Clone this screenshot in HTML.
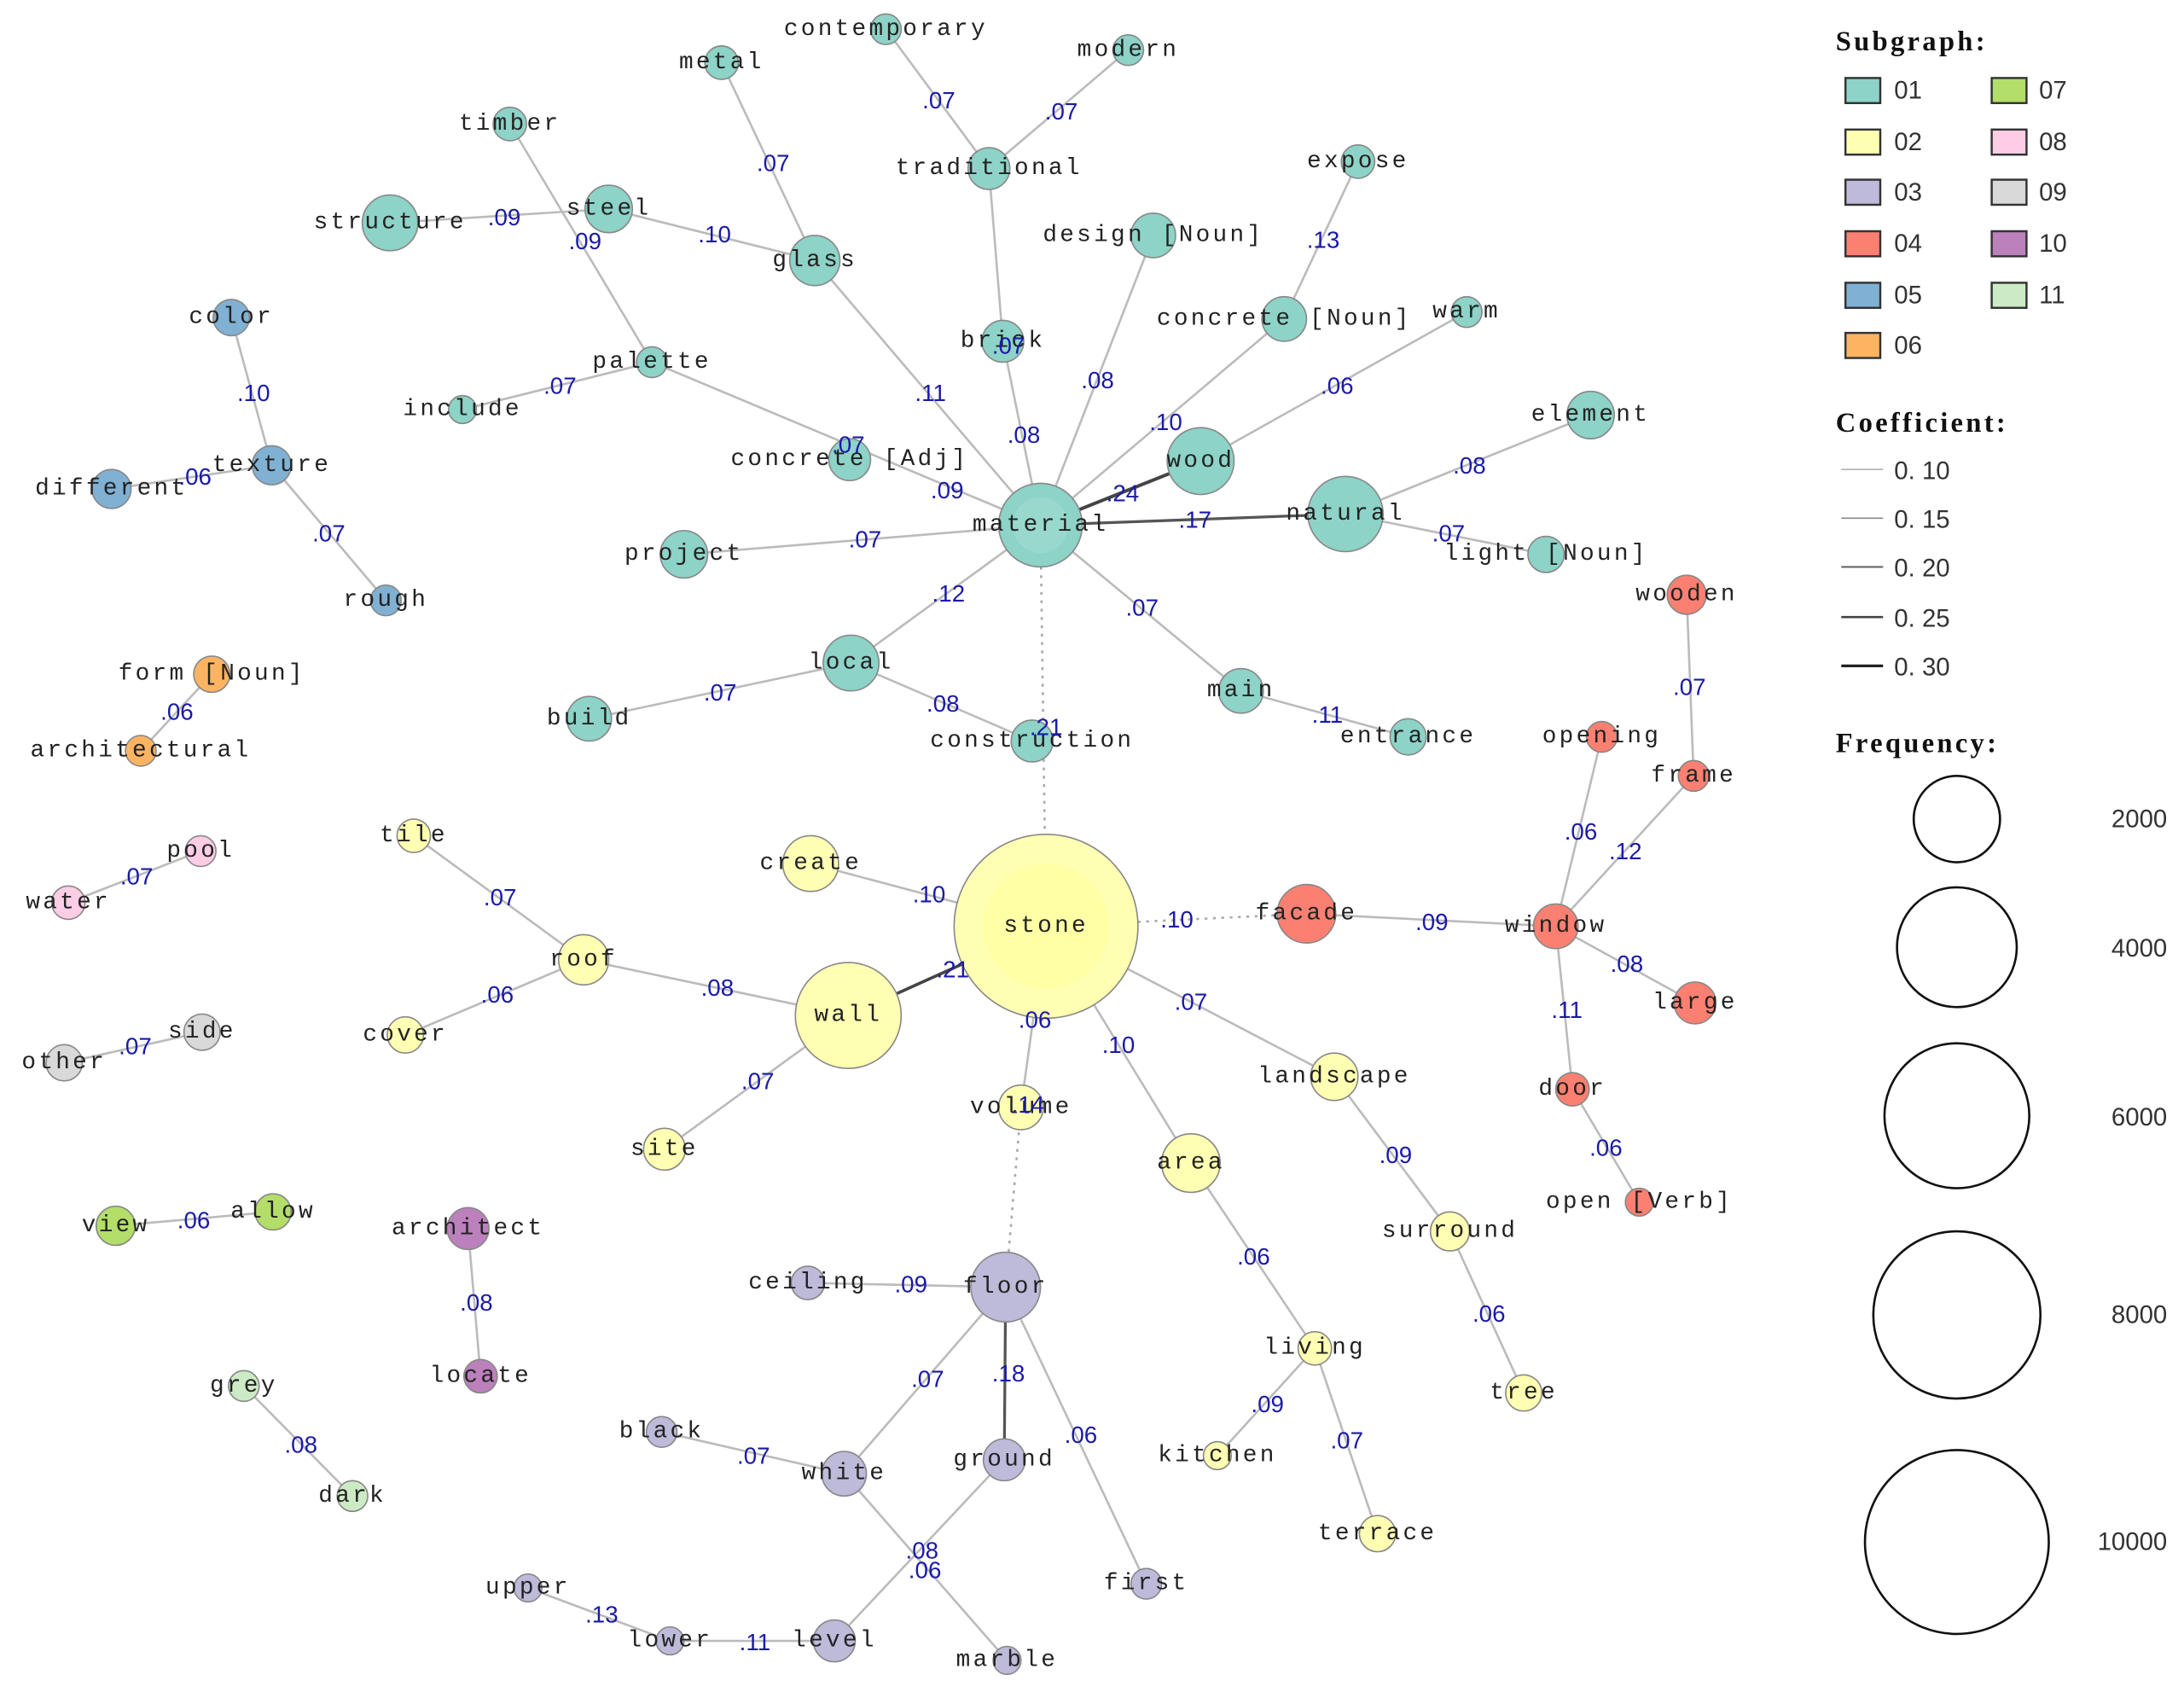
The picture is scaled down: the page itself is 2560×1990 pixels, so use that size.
<!DOCTYPE html>
<html><head><meta charset="utf-8"><style>
html,body{margin:0;padding:0;background:#fff;}
svg{display:block;}
.n{font-family:"Liberation Mono","Noto Sans CJK JP",monospace;font-size:17px;letter-spacing:2px;fill:#222;text-anchor:middle;dominant-baseline:central;}
.e{font-family:"Liberation Sans",sans-serif;font-size:17px;fill:#1a1aa8;text-anchor:middle;dominant-baseline:central;}
.lg{font-family:"Liberation Sans",sans-serif;font-size:18px;fill:#333;dominant-baseline:central;}
.lh{font-family:"Liberation Serif",serif;font-weight:bold;font-size:20px;fill:#111;letter-spacing:2px;}
</style></head><body>
<svg width="2560" height="1990" viewBox="0 0 1568 1219" xmlns="http://www.w3.org/2000/svg">
<g stroke="#bbb" stroke-width="1.6" fill="none">
<line x1="747" y1="377" x2="585" y2="187"/>
<line x1="747" y1="377" x2="720" y2="245"/>
<line x1="720" y1="245" x2="710" y2="121"/>
<line x1="747" y1="377" x2="828" y2="169"/>
<line x1="747" y1="377" x2="922" y2="229"/>
<line x1="747" y1="377" x2="468" y2="260"/>
<line x1="747" y1="377" x2="491" y2="398"/>
<line x1="747" y1="377" x2="611" y2="476"/>
<line x1="747" y1="377" x2="891" y2="496"/>
<line x1="966" y1="369" x2="1142" y2="298"/>
<line x1="966" y1="369" x2="1110" y2="398"/>
<line x1="862" y1="331" x2="1053" y2="224"/>
<line x1="922" y1="229" x2="975" y2="116"/>
<line x1="710" y1="121" x2="636" y2="21"/>
<line x1="710" y1="121" x2="810" y2="36"/>
<line x1="585" y1="187" x2="518" y2="45"/>
<line x1="585" y1="187" x2="437" y2="150"/>
<line x1="437" y1="150" x2="280" y2="160"/>
<line x1="366" y1="89" x2="468" y2="260"/>
<line x1="468" y1="260" x2="332" y2="294"/>
<line x1="611" y1="476" x2="423" y2="516"/>
<line x1="611" y1="476" x2="741" y2="532"/>
<line x1="891" y1="496" x2="1011" y2="529"/>
<line x1="166" y1="228" x2="195" y2="334"/>
<line x1="195" y1="334" x2="80" y2="351"/>
<line x1="195" y1="334" x2="277" y2="431"/>
<line x1="152" y1="484" x2="101" y2="539"/>
<line x1="49" y1="648" x2="144" y2="611"/>
<line x1="46" y1="763" x2="145" y2="741"/>
<line x1="83" y1="880" x2="196" y2="870"/>
<line x1="336" y1="882" x2="345" y2="988"/>
<line x1="175" y1="995" x2="253" y2="1074"/>
<line x1="751" y1="665" x2="582" y2="620"/>
<line x1="751" y1="665" x2="733" y2="795"/>
<line x1="751" y1="665" x2="855" y2="835"/>
<line x1="751" y1="665" x2="958" y2="773"/>
<line x1="609" y1="729" x2="419" y2="689"/>
<line x1="609" y1="729" x2="477" y2="825"/>
<line x1="419" y1="689" x2="297" y2="600"/>
<line x1="419" y1="689" x2="291" y2="743"/>
<line x1="958" y1="773" x2="1041" y2="884"/>
<line x1="1041" y1="884" x2="1094" y2="1000"/>
<line x1="855" y1="835" x2="944" y2="968"/>
<line x1="944" y1="968" x2="874" y2="1045"/>
<line x1="944" y1="968" x2="989" y2="1101"/>
<line x1="938" y1="656" x2="1117" y2="665"/>
<line x1="1117" y1="665" x2="1150" y2="529"/>
<line x1="1117" y1="665" x2="1216" y2="557"/>
<line x1="1216" y1="557" x2="1211" y2="427"/>
<line x1="1117" y1="665" x2="1217" y2="720"/>
<line x1="1117" y1="665" x2="1129" y2="782"/>
<line x1="1129" y1="782" x2="1177" y2="863"/>
<line x1="722" y1="924" x2="580" y2="921"/>
<line x1="722" y1="924" x2="606" y2="1058"/>
<line x1="722" y1="924" x2="823" y2="1137"/>
<line x1="606" y1="1058" x2="475" y2="1028"/>
<line x1="606" y1="1058" x2="723" y2="1192"/>
<line x1="721" y1="1048" x2="599" y2="1178"/>
<line x1="599" y1="1178" x2="481" y2="1178"/>
<line x1="481" y1="1178" x2="379" y2="1140"/>
</g>
<g stroke="#555" fill="none">
<line x1="747" y1="377" x2="966" y2="369" stroke-width="2"/>
<line x1="747" y1="377" x2="862" y2="331" stroke-width="2.4" stroke="#444"/>
<line x1="751" y1="665" x2="609" y2="729" stroke-width="2.2" stroke="#444"/>
<line x1="722" y1="924" x2="721" y2="1048" stroke-width="2" stroke="#555"/>
</g>
<g stroke="#aaa" stroke-width="1.6" stroke-dasharray="2,4" fill="none">
<line x1="747" y1="377" x2="751" y2="665"/>
<line x1="751" y1="665" x2="938" y2="656"/>
<line x1="733" y1="795" x2="722" y2="924"/>
</g>
<g stroke="#888" stroke-width="1">
<g fill="#8dd3c7">
<circle cx="747" cy="377" r="30"/><circle cx="862" cy="331" r="24"/><circle cx="966" cy="369" r="27"/>
<circle cx="280" cy="160" r="20"/><circle cx="437" cy="150" r="17"/><circle cx="585" cy="187" r="18"/>
<circle cx="366" cy="89" r="12"/><circle cx="518" cy="45" r="12"/><circle cx="636" cy="21" r="11"/>
<circle cx="810" cy="36" r="11"/><circle cx="710" cy="121" r="15"/><circle cx="828" cy="169" r="16"/>
<circle cx="975" cy="116" r="12"/><circle cx="720" cy="245" r="15"/><circle cx="922" cy="229" r="16"/>
<circle cx="1053" cy="224" r="11"/><circle cx="1142" cy="298" r="17"/><circle cx="468" cy="260" r="11"/>
<circle cx="332" cy="294" r="10"/><circle cx="610" cy="330" r="15"/><circle cx="491" cy="398" r="17"/>
<circle cx="1110" cy="398" r="13"/><circle cx="611" cy="476" r="20"/><circle cx="891" cy="496" r="16"/>
<circle cx="423" cy="516" r="16"/><circle cx="741" cy="532" r="15"/><circle cx="1011" cy="529" r="13"/>
</g>
<g fill="#80b1d3"><circle cx="166" cy="228" r="13"/><circle cx="195" cy="334" r="14"/><circle cx="80" cy="351" r="14"/><circle cx="277" cy="431" r="11"/></g>
<g fill="#fdb462"><circle cx="152" cy="484" r="13"/><circle cx="101" cy="539" r="11"/></g>
<g fill="#fb8072"><circle cx="1211" cy="427" r="14"/><circle cx="1150" cy="529" r="11"/><circle cx="1216" cy="557" r="11"/><circle cx="938" cy="656" r="21"/><circle cx="1117" cy="665" r="16"/><circle cx="1217" cy="720" r="15"/><circle cx="1129" cy="782" r="12"/><circle cx="1177" cy="863" r="10"/></g>
<g fill="#ffffb3"><circle cx="751" cy="665" r="66"/><circle cx="609" cy="729" r="38"/><circle cx="297" cy="600" r="12"/><circle cx="582" cy="620" r="20"/><circle cx="419" cy="689" r="18"/><circle cx="291" cy="743" r="13"/><circle cx="477" cy="825" r="15"/><circle cx="733" cy="795" r="16"/><circle cx="855" cy="835" r="21"/><circle cx="958" cy="773" r="17"/><circle cx="1041" cy="884" r="14"/><circle cx="944" cy="968" r="12"/><circle cx="1094" cy="1000" r="13"/><circle cx="874" cy="1045" r="10"/><circle cx="989" cy="1101" r="13"/></g>
<g fill="#fccde5"><circle cx="144" cy="611" r="11"/><circle cx="49" cy="648" r="12"/></g>
<g fill="#d9d9d9"><circle cx="145" cy="741" r="13"/><circle cx="46" cy="763" r="13"/></g>
<g fill="#b3de69"><circle cx="83" cy="880" r="14"/><circle cx="196" cy="870" r="13"/></g>
<g fill="#bc80bd"><circle cx="336" cy="882" r="15"/><circle cx="345" cy="988" r="12"/></g>
<g fill="#ccebc5"><circle cx="175" cy="995" r="11"/><circle cx="253" cy="1074" r="11"/></g>
<g fill="#bebada"><circle cx="722" cy="924" r="25"/><circle cx="580" cy="921" r="12"/><circle cx="475" cy="1028" r="11"/><circle cx="606" cy="1058" r="16"/><circle cx="721" cy="1048" r="15"/><circle cx="823" cy="1137" r="11"/><circle cx="379" cy="1140" r="10"/><circle cx="481" cy="1178" r="10"/><circle cx="599" cy="1178" r="15"/><circle cx="723" cy="1192" r="10"/></g>
</g>
<circle cx="751" cy="665" r="45" fill="#ffff99" opacity="0.5"/>
<circle cx="747" cy="377" r="20" fill="#a6ddd3" opacity="0.5"/>
<g class="n">
<text x="747" y="377">material</text><text x="862" y="331">wood</text><text x="966" y="369">natural</text>
<text x="280" y="160">structure</text><text x="437" y="150">steel</text><text x="585" y="187">glass</text>
<text x="366" y="89">timber</text><text x="518" y="45">metal</text><text x="636" y="21">contemporary</text>
<text x="810" y="36">modern</text><text x="710" y="121">traditional</text><text x="828" y="169">design [Noun]</text>
<text x="975" y="116">expose</text><text x="720" y="245">brick</text><text x="922" y="229">concrete [Noun]</text>
<text x="1053" y="224">warm</text><text x="1142" y="298">element</text><text x="468" y="260">palette</text>
<text x="332" y="294">include</text><text x="610" y="330">concrete [Adj]</text><text x="491" y="398">project</text>
<text x="1110" y="398">light [Noun]</text><text x="611" y="476">local</text><text x="891" y="496">main</text>
<text x="423" y="516">build</text><text x="741" y="532">construction</text><text x="1011" y="529">entrance</text>
<text x="166" y="228">color</text><text x="195" y="334">texture</text><text x="80" y="351">different</text><text x="277" y="431">rough</text>
<text x="152" y="484">form [Noun]</text><text x="101" y="539">architectural</text>
<text x="1211" y="427">wooden</text><text x="1150" y="529">opening</text><text x="1216" y="557">frame</text><text x="938" y="656">facade</text>
<text x="1117" y="665">window</text><text x="1217" y="720">large</text><text x="1129" y="782">door</text><text x="1177" y="863">open [Verb]</text>
<text x="751" y="665">stone</text><text x="609" y="729">wall</text><text x="297" y="600">tile</text><text x="582" y="620">create</text>
<text x="419" y="689">roof</text><text x="291" y="743">cover</text><text x="477" y="825">site</text><text x="733" y="795">volume</text>
<text x="855" y="835">area</text><text x="958" y="773">landscape</text><text x="1041" y="884">surround</text><text x="944" y="968">living</text>
<text x="1094" y="1000">tree</text><text x="874" y="1045">kitchen</text><text x="989" y="1101">terrace</text>
<text x="144" y="611">pool</text><text x="49" y="648">water</text><text x="145" y="741">side</text><text x="46" y="763">other</text>
<text x="83" y="880">view</text><text x="196" y="870">allow</text><text x="336" y="882">architect</text><text x="345" y="988">locate</text>
<text x="175" y="995">grey</text><text x="253" y="1074">dark</text>
<text x="722" y="924">floor</text><text x="580" y="921">ceiling</text><text x="475" y="1028">black</text><text x="606" y="1058">white</text>
<text x="721" y="1048">ground</text><text x="823" y="1137">first</text><text x="379" y="1140">upper</text><text x="481" y="1178">lower</text>
<text x="599" y="1178">level</text><text x="723" y="1192">marble</text>
</g>
<g class="e">
<text x="674" y="72">.07</text><text x="762" y="80">.07</text><text x="555" y="117">.07</text>
<text x="362" y="156">.09</text><text x="513" y="168">.10</text><text x="420" y="173">.09</text>
<text x="950" y="172">.13</text><text x="724" y="248">.07</text><text x="668" y="282">.11</text>
<text x="788" y="273">.08</text><text x="960" y="277">.06</text><text x="402" y="277">.07</text>
<text x="735" y="312">.08</text><text x="837" y="303">.10</text><text x="1055" y="334">.08</text>
<text x="609" y="319">.07</text><text x="680" y="352">.09</text><text x="806" y="354">.24</text>
<text x="858" y="373">.17</text><text x="1040" y="383">.07</text><text x="621" y="387">.07</text>
<text x="681" y="426">.12</text><text x="820" y="436">.07</text><text x="517" y="497">.07</text>
<text x="677" y="505">.08</text><text x="751" y="522">.21</text><text x="953" y="513">.11</text>
<text x="182" y="282">.10</text><text x="140" y="342">.06</text><text x="236" y="383">.07</text>
<text x="127" y="511">.06</text><text x="1213" y="493">.07</text>
<text x="98" y="629">.07</text><text x="359" y="644">.07</text><text x="667" y="642">.10</text>
<text x="845" y="660">.10</text><text x="1028" y="662">.09</text><text x="1135" y="597">.06</text>
<text x="1167" y="611">.12</text><text x="1168" y="692">.08</text><text x="1125" y="725">.11</text>
<text x="1153" y="824">.06</text><text x="684" y="696">.21</text><text x="357" y="714">.06</text>
<text x="515" y="709">.08</text><text x="743" y="732">.06</text><text x="855" y="719">.07</text>
<text x="803" y="750">.10</text><text x="97" y="751">.07</text><text x="544" y="776">.07</text>
<text x="738" y="793">.14</text><text x="1002" y="829">.09</text><text x="139" y="876">.06</text>
<text x="342" y="935">.08</text><text x="900" y="902">.06</text><text x="654" y="922">.09</text>
<text x="1069" y="943">.06</text><text x="724" y="986">.18</text><text x="666" y="990">.07</text>
<text x="910" y="1008">.09</text><text x="216" y="1037">.08</text><text x="541" y="1045">.07</text>
<text x="776" y="1030">.06</text><text x="967" y="1034">.07</text><text x="662" y="1113">.08</text>
<text x="664" y="1127">.06</text><text x="432" y="1159">.13</text><text x="542" y="1179">.11</text>
</g>
<text class="lh" x="1318" y="36">Subgraph:</text>
<g stroke="#333" stroke-width="1.5">
<rect x="1325" y="56" width="25" height="18" fill="#8dd3c7"/><rect x="1325" y="93" width="25" height="18" fill="#ffffb3"/>
<rect x="1325" y="129" width="25" height="18" fill="#bebada"/><rect x="1325" y="166" width="25" height="18" fill="#fb8072"/>
<rect x="1325" y="203" width="25" height="18" fill="#80b1d3"/><rect x="1325" y="239" width="25" height="18" fill="#fdb462"/>
<rect x="1430" y="56" width="25" height="18" fill="#b3de69"/><rect x="1430" y="93" width="25" height="18" fill="#fccde5"/>
<rect x="1430" y="129" width="25" height="18" fill="#d9d9d9"/><rect x="1430" y="166" width="25" height="18" fill="#bc80bd"/>
<rect x="1430" y="203" width="25" height="18" fill="#ccebc5"/>
</g>
<g class="lg">
<text x="1360" y="65">01</text><text x="1360" y="102">02</text><text x="1360" y="138">03</text><text x="1360" y="175">04</text><text x="1360" y="212">05</text><text x="1360" y="248">06</text>
<text x="1464" y="65">07</text><text x="1464" y="102">08</text><text x="1464" y="138">09</text><text x="1464" y="175">10</text><text x="1464" y="212">11</text>
</g>
<text class="lh" x="1318" y="310">Coefficient:</text>
<g stroke="#444">
<line x1="1322" y1="337" x2="1352" y2="337" stroke-width="0.8" stroke="#999"/>
<line x1="1322" y1="372" x2="1352" y2="372" stroke-width="1" stroke="#888"/>
<line x1="1322" y1="407" x2="1352" y2="407" stroke-width="1.3" stroke="#666"/>
<line x1="1322" y1="443" x2="1352" y2="443" stroke-width="1.6" stroke="#444"/>
<line x1="1322" y1="478" x2="1352" y2="478" stroke-width="2" stroke="#222"/>
</g>
<g class="lg">
<text x="1360" y="338">0. 10</text><text x="1360" y="373">0. 15</text><text x="1360" y="408">0. 20</text><text x="1360" y="444">0. 25</text><text x="1360" y="479">0. 30</text>
</g>
<text class="lh" x="1318" y="540">Frequency:</text>
<g fill="none" stroke="#111" stroke-width="1.6">
<circle cx="1405" cy="588" r="31"/><circle cx="1405" cy="680" r="43"/><circle cx="1405" cy="801" r="52"/>
<circle cx="1405" cy="944" r="60"/><circle cx="1405" cy="1107" r="66"/>
</g>
<g class="lg" text-anchor="end">
<text x="1556" y="588">2000</text><text x="1556" y="681">4000</text><text x="1556" y="802">6000</text><text x="1556" y="944">8000</text><text x="1556" y="1107">10000</text>
</g>
</svg>
</body></html>
